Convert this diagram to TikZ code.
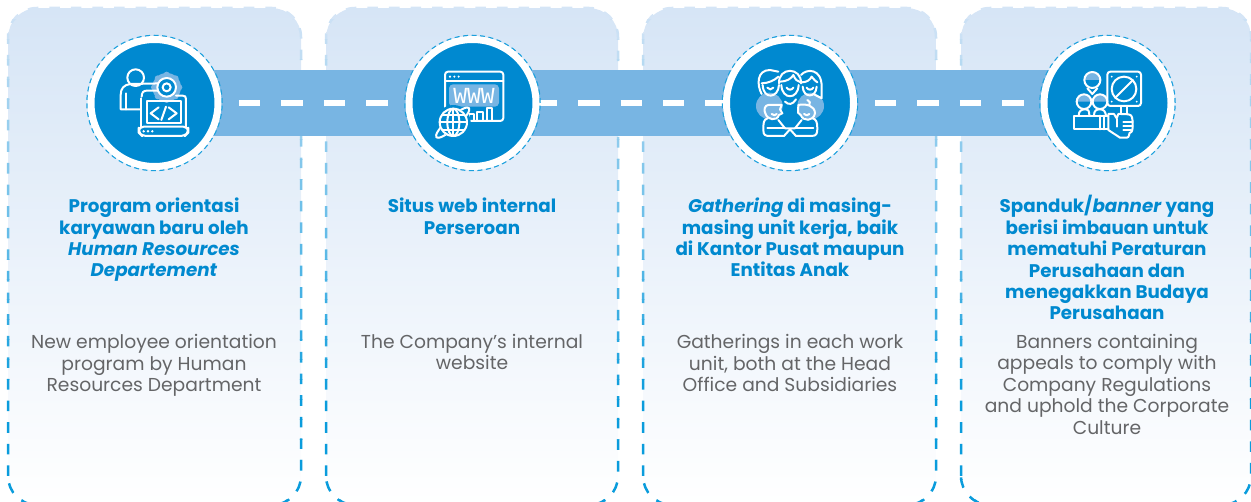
\documentclass[tikz,border=0pt]{standalone}
\usepackage{fontspec}
\setmainfont{Poppins}
\newfontfamily\wwwfont{Liberation Mono}
\usetikzlibrary{backgrounds}
\definecolor{cardtop}{HTML}{D6E5F6}
\definecolor{dashstrong}{HTML}{0A9CDC}
\definecolor{bandblue}{HTML}{78B5E3}
\definecolor{discblue}{HTML}{0089D0}
\definecolor{headblue}{HTML}{0089CF}
\definecolor{bodygrey}{HTML}{646567}
\tikzset{
 cardbox/.style={rectangle,rounded corners=29pt,minimum height=497pt,anchor=north west,inner sep=0pt,top color=cardtop,bottom color=white,draw=none},
 disc/.style={circle,fill=discblue,draw=white,line width=7pt,minimum size=127pt,inner sep=0pt},
 ring/.style={circle,draw=dashstrong!85!bandblue,line width=1.5pt,dash pattern=on 5pt off 3.5pt,minimum size=135pt,inner sep=0pt},
 headtext/.style={align=center,anchor=base,text=headblue,font=\fontsize{18.3}{21.4}\selectfont\bfseries},
 bodytext/.style={align=center,anchor=base,text=bodygrey,font=\fontsize{18.7}{21.4}\selectfont},
 ic/.style={draw=white,line width=2pt,line join=round,line cap=round},
 zoomed/.style={x=0.33333pt,y=-0.33333pt}
}
\newcommand{\cardborder}[2]{%
 \foreach \yy in {0,20,...,500}{%
  \pgfmathsetmacro{\pp}{min(100,max(0,(\yy+2)/400*100))}%
  \begin{scope}
   \clip (#1-5,\yy) rectangle (#2+5,\yy+20);
   \draw[dashstrong!\pp!cardtop,line width=2.5pt,dash pattern=on 10.6pt off 11pt,rounded corners=29pt]
     (#1,505) -- (#1,8) -- (#2,8) -- (#2,505) -- cycle;
  \end{scope}}}
\begin{document}
\begin{tikzpicture}[x=1pt,y=-1pt]
\useasboundingbox (0,0) rectangle (1251,502);
% discs
\node[ring] (r1) at (154.5,103) {};
\node[ring] (r2) at (472.5,103) {};
\node[ring] (r3) at (790,103) {};
\node[ring] (r4) at (1107.5,103) {};
\node[disc] (c1) at (154.5,103) {};
\node[disc] (c2) at (472.5,103) {};
\node[disc] (c3) at (790,103) {};
\node[disc] (c4) at (1107.5,103) {};
\begin{pgfonlayer}{background}
 \node[cardbox,minimum width=293pt] (k1) at (8,8) {};
 \node[cardbox,minimum width=292pt] (k2) at (326,8) {};
 \node[cardbox,minimum width=293pt] (k3) at (643,8) {};
 \node[cardbox,minimum width=290pt] (k4) at (961,8) {};
 \cardborder{8}{301}
 \cardborder{326}{618}
 \cardborder{643}{936}
 \cardborder{961}{1251}
 \draw[bandblue,line width=66pt] (c1.center) -- (c4.center);
 \coordinate (ds) at (239,103);
 \coordinate (de) at (1026,103);
 \draw[white,line width=6pt,dash pattern=on 21.4pt off 21pt] (ds) -- (de);
\end{pgfonlayer}
% icon 1
\begin{scope}[zoomed]
 \fill[bandblue] (500,262) circle[radius=43];
 \foreach \a in {0,45,...,315}{\fill[bandblue] (500,262)++(\a:38) circle[radius=9];}
 \draw[ic] (407,233) circle[radius=25];
 \draw[ic] (422,328) -- (362,328) -- (362,285) .. controls (362,265) and (372,254) .. (392,252) -- (490,250);
 \draw[ic] (378,328) -- (378,280);
 \draw[ic] (425,290) .. controls (425,278) and (430,272) .. (440,272) -- (490,272);
 \draw[ic,fill=discblue] (500,262) circle[radius=28];
 \draw[ic] (500,262) circle[radius=12];
 \draw[ic] (528,287) -- (548,287) .. controls (555,287) and (558,290) .. (558,297) -- (558,380);
 \draw[ic] (424,380) -- (424,295);
 \draw[ic] (440,303) -- (542,303) -- (542,368) -- (440,368) -- cycle;
 \draw[ic,rounded corners=5pt] (416,380) -- (565,380) -- (565,398) -- (555,408) -- (426,408) -- (416,398) -- cycle;
 \foreach \x in {431,444,457}{\fill[white] (\x,394) circle[radius=4];}
 \draw[ic] (476,322) -- (452,340) -- (476,358);
 \draw[ic] (506,322) -- (530,340) -- (506,358);
 \draw[ic] (498,320) -- (484,360);
\end{scope}
% icon 2
\begin{scope}[shift={(390,20)},zoomed]
 \draw[ic,rounded corners=3pt] (165,155) rectangle (340,303);
 \draw[ic] (165,182) -- (340,182);
 \foreach \x in {180,193,206}{\fill[white] (\x,170) circle[radius=3.5];}
 \fill[bandblue,rounded corners=4pt] (177,193) rectangle (327,260);
 \node[text=white,font=\wwwfont\fontsize{23}{23}\selectfont] (www) at (252,228) {WWW};
 \draw[ic] (238,300) -- (238,283) -- (252,283) -- (252,300);
 \draw[ic] (262,300) -- (262,275) -- (278,275) -- (278,300);
 \draw[ic] (290,300) -- (290,265) -- (305,265) -- (305,300);
 \fill[discblue] (190,307) circle[radius=52];
 \draw[ic,rotate around={42:(188,308)}] (188,308) ellipse[x radius=66,y radius=16];
 \fill[discblue] (190,307) circle[radius=43];
 \draw[ic] (190,307) circle[radius=41];
 \draw[ic] (190,307) ellipse[x radius=18,y radius=41];
 \draw[ic] (149,307) -- (231,307);
 \draw[ic] (156,285) -- (224,285);
 \draw[ic] (156,329) -- (224,329);
 \draw[ic] (190,266) -- (190,348);
\end{scope}
% icon 3
\begin{scope}[shift={(710,20)},zoomed]
 \fill[bandblue] (178,258) circle[radius=40];
 \fill[bandblue] (302,258) circle[radius=40];
 % back left
 \draw[ic] (155,222) .. controls (140,195) and (140,150) .. (180,150) -- (205,155);
 \draw[ic] (155,190) .. controls (175,190) and (195,180) .. (205,170);
 \draw[ic] (158,195) .. controls (160,240) and (205,235) .. (207,195);
 \draw[ic] (172,203) .. controls (176,210) and (186,210) .. (190,203);
 % back middle
 \draw[ic] (207,190) .. controls (205,140) and (275,140) .. (273,190);
 \draw[ic] (210,185) .. controls (230,185) and (245,175) .. (250,165) .. controls (255,178) and (262,185) .. (272,187);
 \draw[ic] (214,195) .. controls (216,240) and (264,240) .. (266,195);
 \draw[ic] (230,203) .. controls (235,211) and (245,211) .. (250,203);
 % back right
 \draw[ic] (273,165) .. controls (290,145) and (335,145) .. (335,200) -- (335,235) -- (310,222);
 \draw[ic] (275,187) .. controls (290,187) and (300,180) .. (305,170) .. controls (310,178) and (318,184) .. (322,187);
 \draw[ic] (278,200) .. controls (280,235) and (318,235) .. (320,200);
 \draw[ic] (290,203) .. controls (295,211) and (305,211) .. (310,203);
 \draw[ic] (225,245) .. controls (235,255) and (248,255) .. (258,238);
 % front heads
 \draw[ic] (215,255) -- (175,255) .. controls (165,255) and (160,270) .. (166,280) .. controls (172,300) and (200,305) .. (207,285) -- (217,280) -- (210,268) -- cycle;
 \draw[ic] (185,282) .. controls (190,287) and (197,287) .. (200,282);
 \draw[ic] (265,255) .. controls (290,250) and (315,258) .. (315,280) .. controls (310,305) and (280,305) .. (272,285) -- (264,278) -- cycle;
 \draw[ic] (282,282) .. controls (287,287) and (294,287) .. (298,282);
 \draw[ic] (292,240) .. controls (300,242) and (302,250) .. (298,255);
 % table
 \draw[ic] (172,295) .. controls (160,300) and (160,310) .. (160,330) .. controls (160,345) and (165,348) .. (180,348) -- (222,348) -- (240,328) -- (258,348) -- (305,348) .. controls (320,348) and (322,340) .. (322,325) .. controls (322,305) and (318,298) .. (308,295);
 \draw[ic] (205,300) -- (225,325) -- (255,325) -- (275,300);
 \draw[ic] (172,325) -- (225,325);
 \draw[ic] (255,325) -- (310,325);
\end{scope}
% icon 4
\begin{scope}[shift={(1030,20)},zoomed]
 \draw[ic,rounded corners=3pt] (232,155) rectangle (333,258);
 \draw[ic] (282,207) circle[radius=37];
 \draw[ic] (256,233) -- (308,181);
 \foreach \x/\y in {245/170,320/170,245/245,320/245}{\fill[white] (\x,\y) circle[radius=3];}
 \draw[ic] (272,258) -- (272,282);
 \draw[ic] (292,258) -- (292,282);
 % persons
 \fill[bandblue] (164,180) arc[start angle=180,end angle=360,radius=23] -- cycle;
 \draw[ic] (187,180) circle[radius=24];
 \draw[ic] (172,205) -- (187,222) -- (202,205);
 \fill[bandblue] (141,245) arc[start angle=180,end angle=360,radius=21] -- cycle;
 \fill[bandblue] (189,245) arc[start angle=180,end angle=360,radius=21] -- cycle;
 \draw[ic] (162,245) circle[radius=22];
 \draw[ic] (210,245) circle[radius=22];
 \draw[ic] (146,287) .. controls (146,272) and (155,268) .. (165,268);
 \draw[ic] (178,287) .. controls (178,272) and (175,268) .. (165,268);
 \draw[ic] (192,287) .. controls (192,272) and (198,268) .. (210,268) .. controls (222,268) and (226,275) .. (228,287);
 \draw[ic] (235,287) -- (132,287) -- (132,328) -- (235,328);
 % hand
 \draw[ic] (210,287) -- (210,328);
 \draw[ic] (222,287) -- (222,328);
 \draw[ic] (235,282) -- (235,330) -- (270,353) -- (290,353) .. controls (298,353) and (298,340) .. (298,340) .. controls (310,340) and (310,310) .. (306,292) .. controls (304,282) and (295,282) .. (265,282) -- (260,295) -- (252,282) -- cycle;
 \draw[ic] (280,305) -- (308,305);
 \draw[ic] (280,318) -- (308,318);
 \draw[ic] (280,330) -- (303,330);
 \draw[ic] (262,298) -- (262,320);
\end{scope}
% text
\node[headtext] (h1) at (154,277) {Program orientasi\\karyawan baru oleh\\\textit{Human Resources}\\\textit{Departement}};
\node[headtext] (h2) at (472,234.4) {Situs web internal\\Perseroan};
\node[headtext] (h3) at (790,277) {\textit{Gathering} di masing-\\masing unit kerja, baik\\di Kantor Pusat maupun\\Entitas Anak};
\node[headtext] (h4) at (1107,320) {Spanduk/\textit{banner} yang\\berisi imbauan untuk\\mematuhi Peraturan\\Perusahaan dan\\menegakkan Budaya\\Perusahaan};
\node[bodytext] (b1) at (154,391.5) {New employee orientation\\program by Human\\Resources Department};
\node[bodytext] (b2) at (472,369.9) {The Company’s internal\\website};
\node[bodytext] (b3) at (790,391.5) {Gatherings in each work\\unit, both at the Head\\Office and Subsidiaries};
\node[bodytext] (b4) at (1107,434.1) {Banners containing\\appeals to comply with\\Company Regulations\\and uphold the Corporate\\Culture};
\end{tikzpicture}
\end{document}
